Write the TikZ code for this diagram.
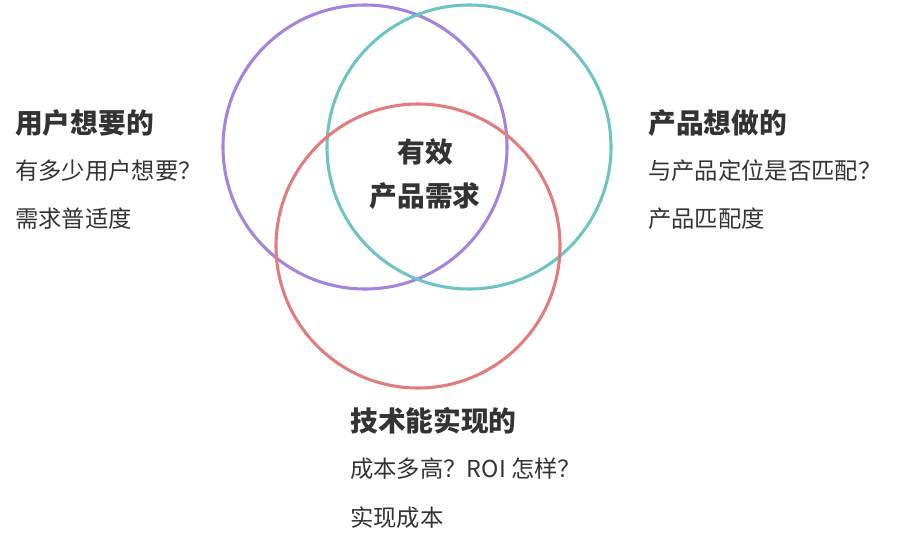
\documentclass[tikz,border=0pt]{standalone}
\usepackage{fontspec}
\setmainfont{Noto Sans CJK SC}
\definecolor{vpurple}{RGB}{163, 131, 224}
\definecolor{vteal}{RGB}{108, 196, 196}
\definecolor{vred}{RGB}{226, 124, 124}
\definecolor{inkgray}{RGB}{51, 51, 51}
\tikzset{
  ring/.style={line width=2.3pt},
  headtext/.style={font=\fontsize{20.8}{24}\selectfont\bfseries, text=inkgray, anchor=west, inner sep=0pt},
  bodytext/.style={font=\fontsize{17.5}{21}\selectfont, text=inkgray, anchor=west, inner sep=0pt}
}

\begin{document}
\begin{tikzpicture}[x=0.75pt, y=-0.75pt]
                \useasboundingbox (0,0) rectangle (902,556);
                \coordinate (P) at (365,147);
                \coordinate (T) at (469,147);
                \coordinate (R) at (418,246);
                \draw[ring, vpurple] (P) circle[radius=142*0.75pt];
                \draw[ring, vteal] (T) circle[radius=142*0.75pt];
                \draw[ring, vred] (R) circle[radius=142*0.75pt];
                % left group
                \node[headtext] (userwant) at (15,123) {用户想要的};
                \node[bodytext] (userq) at (15,171) {有多少用户想要？};
                \node[bodytext] (userm) at (15,219) {需求普适度};
                % right group
                \node[headtext] (prodwant) at (648,123) {产品想做的};
                \node[bodytext] (prodq) at (648,171) {与产品定位是否匹配？};
                \node[bodytext] (prodm) at (648,219) {产品匹配度};
                % bottom group
                \node[headtext] (techdo) at (350,421) {技术能实现的};
                \node[bodytext] (techq) at (350,469) {成本多高？ROI 怎样？};
                \node[bodytext] (techm) at (350,518) {实现成本};
                % centre
                \node[headtext, anchor=center] (eff) at (425,152) {有效};
                \node[headtext, anchor=center] (need) at (425,196) {产品需求};
            \end{tikzpicture}
\end{document}
